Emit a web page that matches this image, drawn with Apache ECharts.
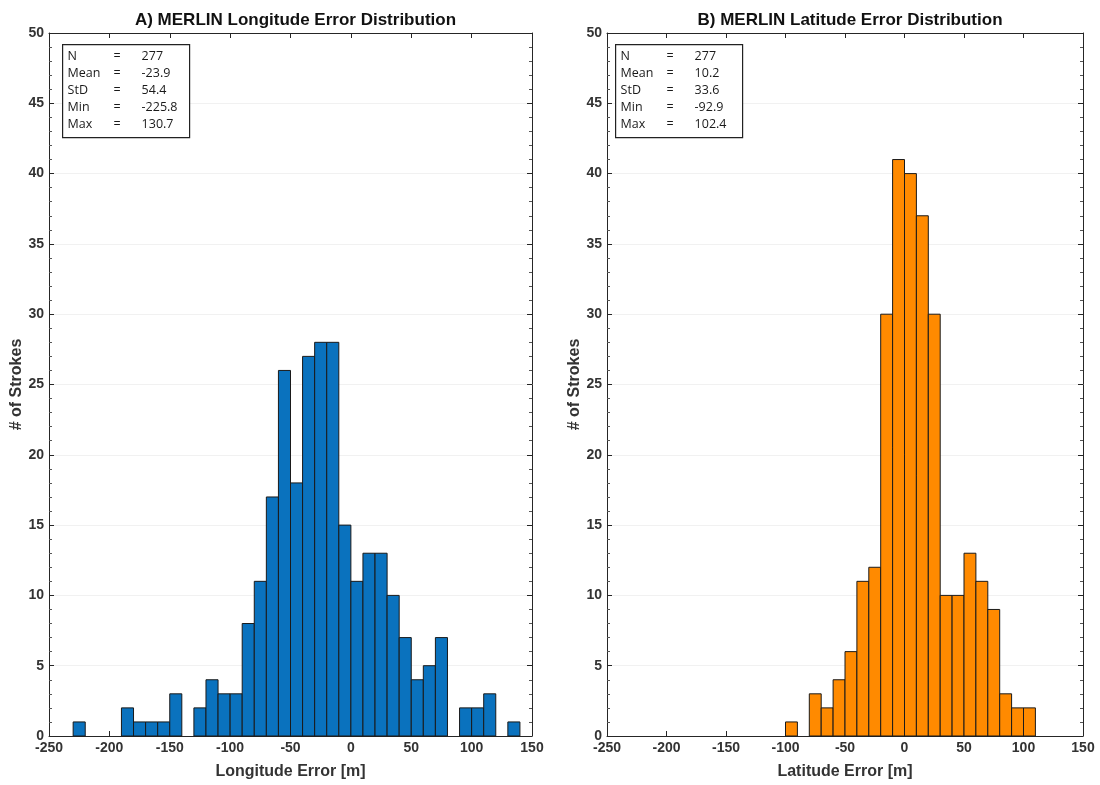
<!DOCTYPE html>
<html>
<head>
<meta charset="utf-8">
<script src="https://cdn.jsdelivr.net/npm/echarts@6/dist/echarts.min.js"></script>
<style>
  html, body { margin: 0; padding: 0; background: #fff; }
  #chart { width: 1100px; height: 785px; }
</style>
</head>
<body>
<div id="chart"></div>
<script>
// bin lower edges (m), bin width 10 m
const binWidth = 10;
const lonEdges = [-230, -220, -210, -200, -190, -180, -170, -160, -150, -140, -130, -120, -110, -100, -90, -80, -70, -60, -50, -40, -30, -20, -10, 0, 10, 20, 30, 40, 50, 60, 70, 80, 90, 100, 110, 120, 130];
const lonCounts = [1, 0, 0, 0, 2, 1, 1, 1, 3, 0, 2, 4, 3, 3, 8, 11, 17, 26, 18, 27, 28, 28, 15, 11, 13, 13, 10, 7, 4, 5, 7, 0, 2, 2, 3, 0, 1];
const latEdges = [-100, -90, -80, -70, -60, -50, -40, -30, -20, -10, 0, 10, 20, 30, 40, 50, 60, 70, 80, 90, 100];
const latCounts = [1, 0, 3, 2, 4, 6, 11, 12, 30, 41, 40, 37, 30, 10, 10, 13, 11, 9, 3, 2, 2];

const statNames = ["N", "Mean", "StD", "Min", "Max"];
const lonStats = ["277", "-23.9", "54.4", "-225.8", "130.7"];
const latStats = ["277", "10.2", "33.6", "-92.9", "102.4"];

const titles = ["A) MERLIN Longitude Error Distribution", "B) MERLIN Latitude Error Distribution"];
const xNames = ["Longitude Error [m]", "Latitude Error [m]"];
const yName = "# of Strokes";

const grids = [
  { left: 49, top: 33, width: 483, height: 704 },
  { left: 607, top: 33, width: 476, height: 704 },
];

const axisColor = "#262626";
const labelFont = { color: "#333", fontFamily: "Liberation Sans, Arial", fontWeight: "bold", fontSize: 14 };
const nameFont = { color: "#333", fontFamily: "Liberation Sans, Arial", fontWeight: "bold", fontSize: 16 };

function histData(edges, counts) {
  return edges.map((e, i) => [e, e + binWidth, counts[i]]).filter((d) => d[2] > 0);
}

function renderBar(color) {
  return function (params, api) {
    const p0 = api.coord([api.value(0), api.value(2)]);
    const p1 = api.coord([api.value(1), 0]);
    return {
      type: "rect",
      shape: { x: p0[0], y: p0[1], width: p1[0] - p0[0], height: p1[1] - p0[1] },
      style: { fill: color, stroke: "#1a1a1a", lineWidth: 1 },
    };
  };
}

function xAxes(gi) {
  const base = {
    type: "value",
    gridIndex: gi,
    min: -250,
    max: 150,
    interval: 50,
    splitLine: { show: false },
    axisLine: { onZero: false, lineStyle: { color: axisColor, width: 1 } },
    axisTick: { inside: true, length: 5, lineStyle: { color: axisColor } },
  };
  return [
    {
      ...base,
      position: "bottom",
      name: xNames[gi],
      nameLocation: "middle",
      nameGap: 28,
      nameTextStyle: nameFont,
      axisLabel: { ...labelFont, margin: 5 },
    },
    { ...base, position: "top", axisLabel: { show: false } },
  ];
}

function yAxes(gi) {
  const base = {
    type: "value",
    gridIndex: gi,
    min: 0,
    max: 50,
    interval: 5,
    axisLine: { show: true, onZero: false, lineStyle: { color: axisColor, width: 1 } },
    axisTick: { inside: true, length: 5, lineStyle: { color: axisColor } },
    minorTick: { show: true, splitNumber: 5, length: 3, lineStyle: { color: "#555" } },
  };
  return [
    {
      ...base,
      position: "left",
      name: yName,
      nameLocation: "middle",
      nameGap: 23,
      nameTextStyle: nameFont,
      axisLabel: { ...labelFont, margin: 5 },
      splitLine: { show: true, lineStyle: { color: "#f1f1f1", width: 1 } },
    },
    { ...base, position: "right", axisLabel: { show: false }, splitLine: { show: false } },
  ];
}

function statsBox(x, y, values) {
  const children = [
    {
      type: "rect",
      z: 100,
      shape: { x: 0, y: 0, width: 127, height: 93 },
      style: { fill: "#fff", stroke: "#222", lineWidth: 1.2 },
    },
  ];
  statNames.forEach((n, i) => {
    const ty = 12 + i * 17;
    const font = { fontFamily: "Open Sans, Noto Sans", fontSize: 12.5, fill: "#1a1a1a", verticalAlign: "middle" };
    children.push({ type: "text", z: 101, x: 5, y: ty, style: { ...font, text: n } });
    children.push({ type: "text", z: 101, x: 51, y: ty, style: { ...font, text: "=" } });
    children.push({ type: "text", z: 101, x: 79, y: ty, style: { ...font, text: values[i] } });
  });
  return { type: "group", left: x, top: y, z: 100, children };
}

const chart = echarts.init(document.getElementById("chart"), null, { renderer: "canvas" });

chart.setOption({
  backgroundColor: "#fff",
  animation: false,
  title: titles.map((t, i) => ({
    text: t,
    left: grids[i].left + grids[i].width / 2,
    textAlign: "center",
    top: 7,
    textStyle: { color: "#111", fontFamily: "Liberation Sans, Arial", fontWeight: "bold", fontSize: 17 },
  })),
  grid: grids,
  xAxis: [...xAxes(0), ...xAxes(1)],
  yAxis: [...yAxes(0), ...yAxes(1)],
  series: [
    {
      type: "custom",
      xAxisIndex: 0,
      yAxisIndex: 0,
      renderItem: renderBar("#0a72be"),
      encode: { x: [0, 1], y: 2 },
      data: histData(lonEdges, lonCounts),
    },
    {
      type: "custom",
      xAxisIndex: 2,
      yAxisIndex: 2,
      renderItem: renderBar("#ff8a00"),
      encode: { x: [0, 1], y: 2 },
      data: histData(latEdges, latCounts),
    },
  ],
  graphic: [statsBox(62, 44, lonStats), statsBox(615, 44, latStats)],
});
</script>
</body>
</html>
